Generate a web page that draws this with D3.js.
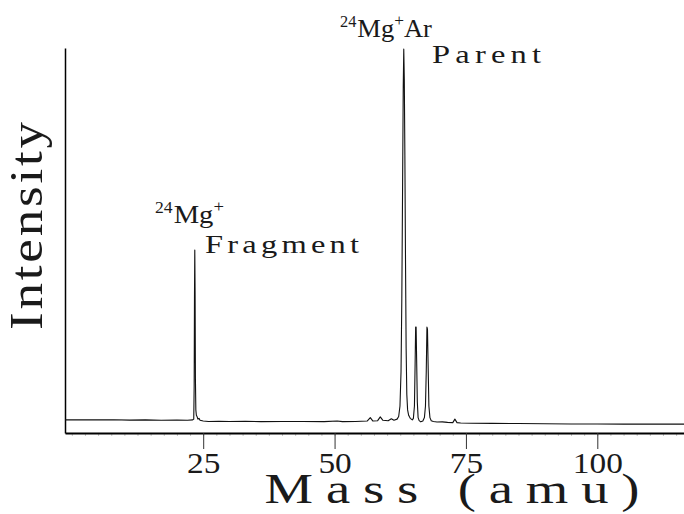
<!DOCTYPE html>
<html>
<head>
<meta charset="utf-8">
<script src="https://cdn.jsdelivr.net/npm/d3@7"></script>
<style>
  html, body { margin: 0; padding: 0; background: #fff; }
  svg { display: block; }
  text { font-family: "Liberation Serif", "DejaVu Serif", serif; fill: #1a1a1a; }
</style>
</head>
<body>
<svg id="chart" width="684" height="514"></svg>
<script>
// ---- data ----
const mass = [
  -1.3, 2, 5, 8, 11, 14, 17, 20, 22, 23.0,
  23.2, 23.28, 23.34, 23.4, 23.46, 23.52, 23.6, 23.7, 23.85, 24.0,
  24.2, 24.4, 25, 26, 28, 30, 33, 36, 40, 44,
  48, 50.5, 51.5, 54, 56.2, 56.8, 57.3, 58.2, 58.7, 59.2,
  60.2, 60.8, 61.3, 61.9, 62.2, 62.45, 62.65, 62.8, 62.95, 63.07,
  63.17, 63.27, 63.38, 63.5, 63.62, 63.75, 63.9, 64.1, 64.4, 64.8,
  65.0, 65.2, 65.33, 65.43, 65.52, 65.62, 65.75, 65.9, 66.1, 66.4,
  66.8, 67.1, 67.3, 67.45, 67.58, 67.68, 67.8, 67.95, 68.15, 68.4,
  68.8, 69.5, 70.5, 71.5, 72.5, 72.9, 73.3, 74, 76, 80,
  85, 90, 95, 100, 105, 110, 116.5
];
const intensity = [
  3.4, 3.45, 3.4, 3.45, 3.35, 3.4, 3.3, 3.35, 3.3, 3.4,
  3.6, 12, 35, 47.5, 36, 14, 6, 4.6, 4.2, 3.6,
  3.8, 3.3, 3.1, 3.0, 3.05, 3.0, 3.05, 2.95, 3.0, 3.0,
  2.95, 3.1, 2.95, 3.0, 3.1, 4.0, 3.1, 3.2, 4.2, 3.3,
  3.2, 3.7, 3.3, 3.6, 4.3, 7, 16, 35, 65, 90,
  99.7, 92, 72, 45, 22, 10, 6, 4.6, 3.8, 3.4,
  3.8, 7, 18, 27.5, 27.5, 19, 8, 4, 3.2, 2.9,
  3.1, 4, 7, 16, 27.5, 27, 18, 7, 4, 3.2,
  3.0, 2.85, 2.9, 2.75, 2.7, 3.6, 2.7, 2.6, 2.55, 2.5,
  2.45, 2.4, 2.35, 2.35, 2.3, 2.3, 2.3
];
const xTickValues = [25, 50, 75, 100];
const xMinorTicks = d3.range(0, 117, 2.5);

// ---- scales ----
const svg = d3.select("#chart");
const x = d3.scaleLinear().domain([-1.3, 116.5]).range([65, 684]);
const y = d3.scaleLinear().domain([0, 100]).range([433, 48]);

// minor ticks
svg.append("g")
  .attr("transform", `translate(0,${y(0)})`)
  .call(d3.axisBottom(x).tickValues(xMinorTicks).tickSize(3).tickSizeOuter(0).tickFormat(""))
  .call(g => g.select(".domain").remove())
  .call(g => g.selectAll(".tick line").attr("stroke", "#aaa").attr("stroke-width", 0.7));

// x axis
const xAxis = svg.append("g")
  .attr("transform", `translate(0,${y(0)})`)
  .call(d3.axisBottom(x).tickValues(xTickValues).tickSize(16).tickSizeOuter(0).tickPadding(3));
xAxis.select(".domain").attr("stroke", "#000").attr("stroke-width", 2);
xAxis.selectAll(".tick line").attr("stroke", "#333").attr("stroke-width", 1);
xAxis.selectAll(".tick text")
  .attr("font-family", "Liberation Serif, DejaVu Serif, serif")
  .attr("font-size", 29)
  .attr("transform", "scale(1.15,1)")
  .attr("fill", "#1a1a1a");

// y axis (no ticks)
svg.append("g")
  .attr("transform", `translate(${x(-1.3)},0)`)
  .call(d3.axisLeft(y).tickValues([]).tickSizeOuter(0))
  .call(g => g.select(".domain").attr("stroke", "#000").attr("stroke-width", 1.5));

// spectrum trace
const pts = mass.map((m, i) => [m, intensity[i]]);
svg.append("path")
  .datum(pts)
  .attr("fill", "none")
  .attr("stroke", "#111")
  .attr("stroke-width", 1.1)
  .attr("stroke-linejoin", "round")
  .attr("d", d3.line().x(d => x(d[0])).y(d => y(d[1])));

// stretched text helper: width is the on-screen width
function wideText(tx, ty, rot, sx, size, width, anchor, str) {
  return svg.append("text")
    .attr("transform", `translate(${tx},${ty}) rotate(${rot}) scale(${sx},1)`)
    .attr("text-anchor", anchor)
    .attr("font-size", size)
    .attr("textLength", width / sx).attr("lengthAdjust", "spacing")
    .text(str);
}

// axis titles
wideText(452, 503, 0, 1.3, 42, 375, "middle", "Mass (amu)");
wideText(42, 226, -90, 1.15, 46, 208, "middle", "Intensity");

// peak labels
function label(xp, yp, sx, pre, main, sup, tail) {
  const t = svg.append("text")
    .attr("transform", `translate(${xp},${yp}) scale(${sx},1)`)
    .attr("font-size", 26);
  t.append("tspan").attr("font-size", 16).attr("dy", -10).text(pre);
  t.append("tspan").attr("dy", 10).attr("dx", 1).text(main);
  t.append("tspan").attr("font-size", 17).attr("dy", -11).text(sup);
  if (tail) t.append("tspan").attr("dy", 11).text(tail);
}
label(155, 223, 1.1, "24", "Mg", "+", "");
wideText(205, 253, 0, 1.25, 26, 154, "start", "Fragment");

label(340, 37, 1.02, "24", "Mg", "+", "Ar");
wideText(432, 63, 0, 1.25, 26, 109, "start", "Parent");
</script>
</body>
</html>
